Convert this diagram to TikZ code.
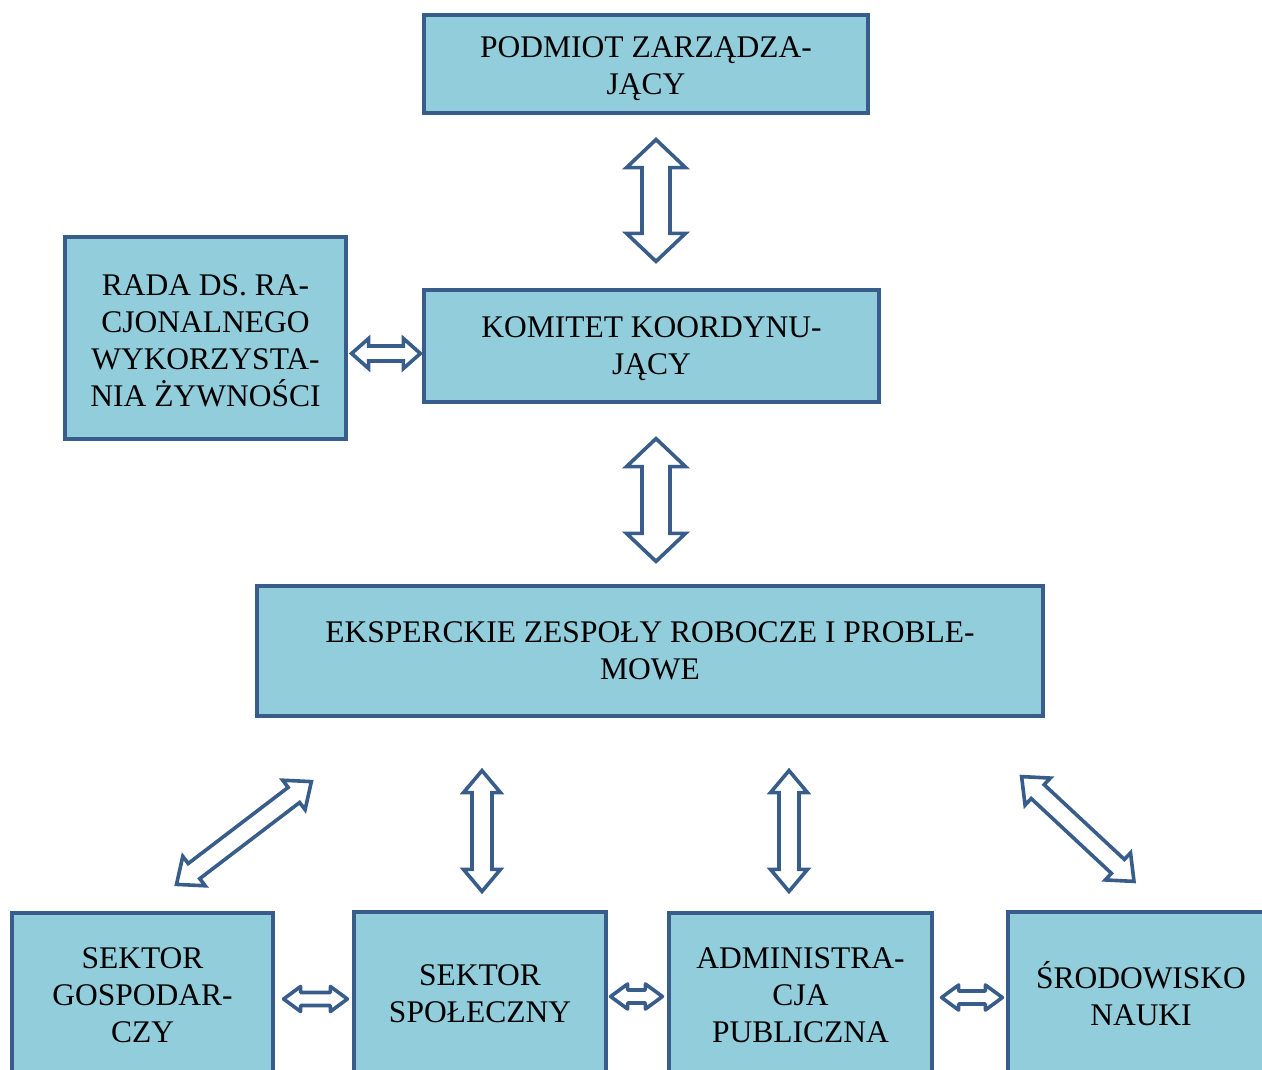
\documentclass[tikz,border=0pt]{standalone}
\usepackage{fontspec}
\setmainfont{Liberation Serif}
\usetikzlibrary{calc}

\definecolor{boxfill}{HTML}{92CDDC}
\definecolor{boxline}{HTML}{385D8A}

\tikzset{
  box/.style={draw=boxline, fill=boxfill, line width=3.2pt, inner sep=0pt,
    align=center, font=\fontsize{31.5}{37}\selectfont},
  arr/.style={draw=boxline, fill=white, line width=3.6pt, line join=miter},
  roundarr/.style={arr, line join=round},
}

% hollow double arrow: from, to, shaft half width, head half width, head length
\newcommand{\dblarrow}[6][arr]{%
  \path (#2); \pgfgetlastxy{\ax}{\ay}%
  \path (#3); \pgfgetlastxy{\bx}{\by}%
  \pgfmathsetmacro{\ang}{atan2(\by-\ay,\bx-\ax)}%
  \pgfmathsetmacro{\len}{veclen(\bx-\ax,\by-\ay)}%
  \pgfmathsetmacro{\hb}{\len-#6}%
  \filldraw[#1, shift={(\ax,\ay)}, rotate=\ang]
    (0pt,0pt) -- (#6pt,#5pt) -- (#6pt,#4pt) -- (\hb pt,#4pt) -- (\hb pt,#5pt)
    -- (\len pt,0pt) -- (\hb pt,-#5pt) -- (\hb pt,-#4pt) -- (#6pt,-#4pt)
    -- (#6pt,-#5pt) -- cycle;
}

\begin{document}
\begin{tikzpicture}[x=1pt,y=-1pt]
\useasboundingbox (0,0) rectangle (1262,1070);
\clip (0,0) rectangle (1262,1070);

% boxes
\node[box, minimum width=444pt, minimum height=98pt] (podmiot) at (646,64) {\rule{0pt}{30pt}PODMIOT ZARZĄDZA-\\JĄCY};
\node[box, minimum width=455pt, minimum height=112pt] (komitet) at (651.5,346) {\rule{0pt}{26pt}KOMITET KOORDYNU-\\JĄCY};
\node[box, minimum width=281pt, minimum height=202pt] (rada) at (205.5,338) {\rule{0pt}{26pt}RADA DS. RA-\\CJONALNEGO\\WYKORZYSTA-\\NIA ŻYWNOŚCI};
\node[box, minimum width=786pt, minimum height=130pt] (eksp) at (650,651) {EKSPERCKIE ZESPOŁY ROBOCZE I PROBLE-\\MOWE};
\node[box, minimum width=261pt, minimum height=164pt] (sgosp) at (142.5,995) {SEKTOR\\GOSPODAR-\\CZY};
\node[box, minimum width=252pt, minimum height=163pt] (sspol) at (480,993.5) {SEKTOR\\SPOŁECZNY};
\node[box, minimum width=263pt, minimum height=164pt] (admin) at (800.5,995) {ADMINISTRA-\\CJA\\PUBLICZNA};
\node[box, minimum width=266pt, minimum height=163pt] (srod) at (1141,993.5) {ŚRODOWISKO\\NAUKI};

% arrows between levels
\dblarrow{$(podmiot.south)+(10,25)$}{$(komitet.north)+(4.5,-27)$}{14}{29.5}{28}
\dblarrow{$(komitet.south)+(4.5,35)$}{$(eksp.north)+(6,-23)$}{14}{29.5}{28}
\dblarrow{$(rada.east)+(4,15.5)$}{$(komitet.west)+(-2,7.5)$}{7.5}{15}{17}

% arrows to the sectors
\dblarrow{$(sgosp.north)+(34,-27)$}{$(eksp.south west)+(56,64)$}{9.5}{18.5}{22}
\dblarrow{$(eksp.south)+(-168,53)$}{$(sspol.north)+(2,-19)$}{10}{18.5}{22}
\dblarrow{$(eksp.south)+(139,53)$}{$(admin.north)+(-11.5,-20)$}{10}{18.5}{22}
\dblarrow{$(eksp.south east)+(-23,59)$}{$(srod.north)+(-7,-29)$}{9.5}{18.5}{22}

% arrows between sectors
\dblarrow[roundarr]{$(sgosp.east)+(9,4)$}{$(sspol.west)+(-5,5.5)$}{6.5}{12.5}{17}
\dblarrow[roundarr]{$(sspol.east)+(3,3)$}{$(admin.west)+(-5,1.5)$}{6.5}{12.5}{17}
\dblarrow[roundarr]{$(admin.east)+(8,2.5)$}{$(srod.west)+(-4,4)$}{6.5}{12.5}{17}
\end{tikzpicture}
\end{document}
